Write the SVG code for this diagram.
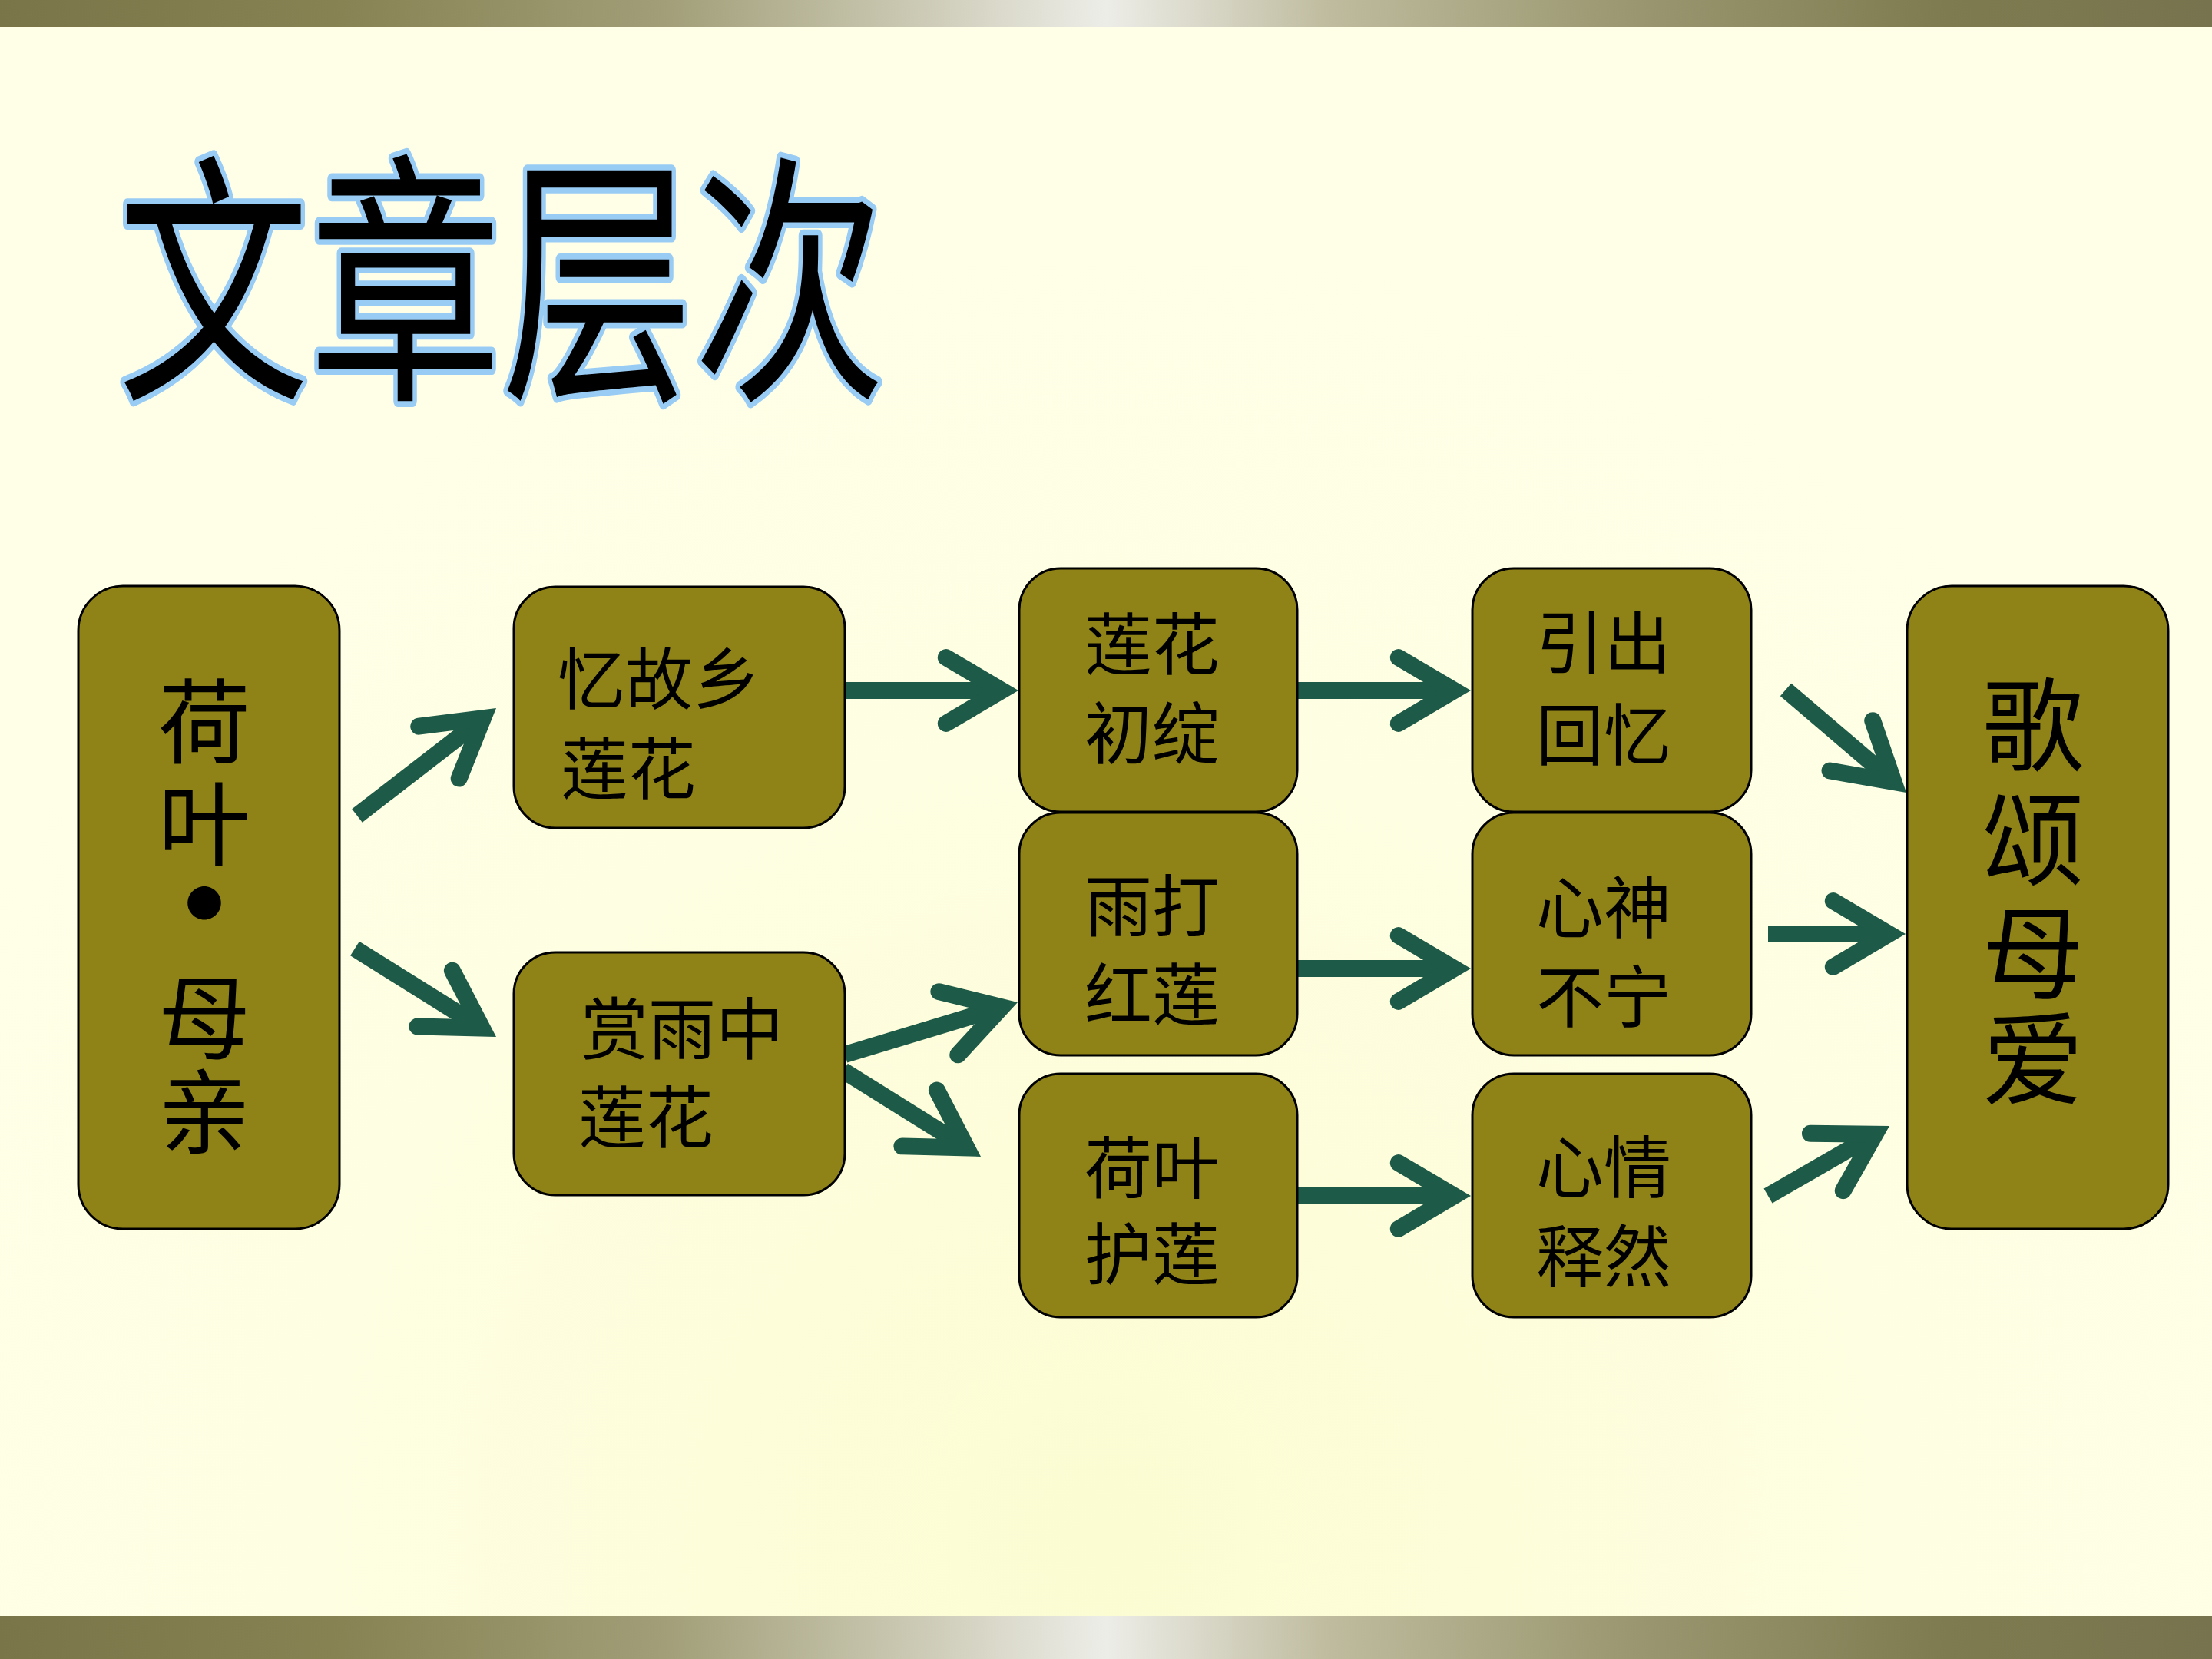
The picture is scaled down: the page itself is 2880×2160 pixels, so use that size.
<svg xmlns="http://www.w3.org/2000/svg" width="2880" height="2160" viewBox="0 0 2880 2160">
  <defs>
    <linearGradient id="bar" x1="0" y1="0" x2="1" y2="0">
      <stop offset="0" stop-color="#7A7549"/>
      <stop offset="0.15" stop-color="#878252"/>
      <stop offset="0.3" stop-color="#A19E78"/>
      <stop offset="0.4" stop-color="#C6C4AC"/>
      <stop offset="0.5" stop-color="#EDEDE8"/>
      <stop offset="0.6" stop-color="#BFBC9F"/>
      <stop offset="0.72" stop-color="#9E9B75"/>
      <stop offset="0.88" stop-color="#7F7B50"/>
      <stop offset="1" stop-color="#77734E"/>
    </linearGradient>
    <radialGradient id="bg" cx="1440" cy="2000" r="1700" gradientUnits="userSpaceOnUse">
      <stop offset="0" stop-color="#FCFCD2"/>
      <stop offset="0.6" stop-color="#FEFEE2"/>
      <stop offset="1" stop-color="#FFFFE8"/>
    </radialGradient>
    <marker id="ah" markerUnits="strokeWidth" orient="auto" refX="0" refY="0" markerWidth="8" markerHeight="8" overflow="visible">
      <path d="M-3.3,-1.95 L0,0 L-3.3,1.95" fill="none" stroke="#1E5A48" stroke-width="1" stroke-linecap="round" stroke-linejoin="miter"/>
    </marker>
    <style>
      .node rect { fill: #8F8317; stroke: #000; stroke-width: 3; }
      .t { font-family: "Noto Sans CJK SC", "Noto Sans CJK TC", sans-serif; fill: #000; dominant-baseline: central; }
      .s { font-size: 88px; }
      .m { font-size: 88px; text-anchor: middle; }
      .big { font-size: 120px; text-anchor: middle; }
      .big2 { font-size: 132px; text-anchor: middle; }
      .title { font-family: "Noto Sans CJK SC", sans-serif; font-size: 250px; fill: #000; stroke: #99CCF5; stroke-width: 11; paint-order: stroke; stroke-linejoin: round; dominant-baseline: central; }
      .conn line { stroke: #1E5A48; stroke-width: 22; stroke-linecap: butt; marker-end: url(#ah); }
    </style>
  </defs>

  <rect x="0" y="0" width="2880" height="2160" fill="url(#bg)"/>
  <rect x="0" y="0" width="2880" height="35" fill="url(#bar)"/>
  <rect x="0" y="2104" width="2880" height="56" fill="url(#bar)"/>

  <g id="title">
    <text class="title" transform="translate(0,345) scale(1,1.38)" x="153" y="0">文章层次</text>
  </g>

  <g id="connectors" class="conn">
    <line x1="465" y1="1062" x2="628.9" y2="935.2"/>
    <line x1="462" y1="1235" x2="627.7" y2="1338.6"/>
    <line x1="1100" y1="899" x2="1304.4" y2="899"/>
    <line x1="1689" y1="899" x2="1893.4" y2="899"/>
    <line x1="1100" y1="1373" x2="1304.3" y2="1311.2"/>
    <line x1="1098" y1="1394" x2="1258.7" y2="1494.5"/>
    <line x1="1689" y1="1261" x2="1893.4" y2="1261"/>
    <line x1="1689" y1="1557" x2="1893.4" y2="1557"/>
    <line x1="2325" y1="898" x2="2465.6" y2="1018"/>
    <line x1="2302" y1="1216" x2="2459.4" y2="1216"/>
    <line x1="2302" y1="1557" x2="2441.3" y2="1476.8"/>
  </g>

  <g id="node-hy" class="node">
    <rect x="102" y="763" width="340" height="837" rx="58" ry="58"/>
    <text class="t big"><tspan x="266" y="933">荷</tspan><tspan x="266" y="1066">叶</tspan><tspan x="266" y="1167" font-size="170" font-weight="bold">·</tspan><tspan x="266" y="1318">母</tspan><tspan x="266" y="1441">亲</tspan></text>
  </g>

  <g id="node-ygx" class="node">
    <rect x="669" y="764" width="431" height="314" rx="54" ry="54"/>
    <text class="t s"><tspan x="726" y="877">忆故乡</tspan><tspan x="730" y="994">莲花</tspan></text>
  </g>

  <g id="node-syz" class="node">
    <rect x="669" y="1240" width="431" height="316" rx="54" ry="54"/>
    <text class="t s"><tspan x="756" y="1333">赏雨中</tspan><tspan x="753" y="1448">莲花</tspan></text>
  </g>

  <g id="node-lhcz" class="node">
    <rect x="1327" y="740" width="362" height="317" rx="54" ry="54"/>
    <text class="t m"><tspan x="1500" y="832">莲花</tspan><tspan x="1500" y="948">初绽</tspan></text>
  </g>

  <g id="node-ydhl" class="node">
    <rect x="1327" y="1058" width="362" height="316" rx="54" ry="54"/>
    <text class="t m"><tspan x="1500" y="1173">雨打</tspan><tspan x="1500" y="1288">红莲</tspan></text>
  </g>

  <g id="node-hyhl" class="node">
    <rect x="1327" y="1398" width="362" height="317" rx="54" ry="54"/>
    <text class="t m"><tspan x="1500" y="1514">荷叶</tspan><tspan x="1500" y="1626">护莲</tspan></text>
  </g>

  <g id="node-ychy" class="node">
    <rect x="1917" y="740" width="363" height="317" rx="54" ry="54"/>
    <text class="t m"><tspan x="2088" y="830">引出</tspan><tspan x="2088" y="950">回忆</tspan></text>
  </g>

  <g id="node-xsbn" class="node">
    <rect x="1917" y="1058" width="363" height="316" rx="54" ry="54"/>
    <text class="t m"><tspan x="2088" y="1175">心神</tspan><tspan x="2088" y="1291">不宁</tspan></text>
  </g>

  <g id="node-xqsr" class="node">
    <rect x="1917" y="1398" width="363" height="317" rx="54" ry="54"/>
    <text class="t m"><tspan x="2088" y="1513">心情</tspan><tspan x="2088" y="1629">释然</tspan></text>
  </g>

  <g id="node-gsma" class="node">
    <rect x="2483" y="763" width="340" height="837" rx="58" ry="58"/>
    <text class="t big2"><tspan x="2647" y="935">歌</tspan><tspan x="2647" y="1084">颂</tspan><tspan x="2647" y="1232">母</tspan><tspan x="2647" y="1370">爱</tspan></text>
  </g>
</svg>
